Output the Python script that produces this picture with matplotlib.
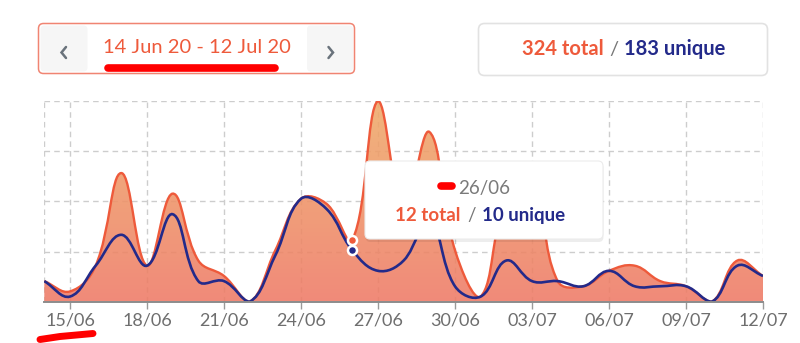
import numpy as np
import matplotlib
matplotlib.use('Agg')
import matplotlib.pyplot as plt
from matplotlib.path import Path
from matplotlib.patches import PathPatch, FancyBboxPatch
from matplotlib.colors import LinearSegmentedColormap

plt.rcParams['font.family'] = ['Lato', 'DejaVu Sans']

# daily visits, 14 Jun 20 -> 12 Jul 20
total = [4, 2, 7, 25, 7, 21, 8, 5, 0, 10, 20, 19, 12, 39, 18, 33, 10, 1,
         20, 23, 4, 3, 6, 7, 4, 3, 0, 8, 5]
unique = [4, 1, 7, 13, 7, 17, 4, 4, 0, 9, 20, 18, 10, 6, 8, 16, 3, 1,
          8, 4, 4, 3, 6, 3, 3, 3, 0, 7, 5]
unique_period = 183
tick_days = [1, 4, 7, 10, 13, 16, 19, 22, 25, 28]
tick_labels = ['15/06', '18/06', '21/06', '24/06', '27/06',
               '30/06', '03/07', '06/07', '09/07', '12/07']
range_label = '14 Jun 20 - 12 Jul 20'
hover_day = 12
hover_label = '26/06'

RED = '#ee5a3b'
NAVY = '#232a8a'

ndays = len(total)
xmax = ndays - 1
ymax = max(total)
# pixel size of one day / one visit, used for the spline control points
SX, SY = 25.67, 5.15


def spline(values, tension=0.4):
    pts = np.column_stack([np.arange(len(values)) * SX,
                           np.asarray(values, float) * SY])
    n = len(pts)
    cin = np.zeros_like(pts)
    cout = np.zeros_like(pts)
    for i in range(n):
        cur = pts[i]
        prev = pts[max(i - 1, 0)]
        nxt = pts[min(i + 1, n - 1)]
        d01 = np.hypot(*(cur - prev))
        d12 = np.hypot(*(nxt - cur))
        s = d01 + d12
        s01 = d01 / s if s else 0
        s12 = d12 / s if s else 0
        cin[i] = cur - tension * s01 * (nxt - prev)
        cout[i] = cur + tension * s12 * (nxt - prev)
    lim = np.array([xmax * SX, ymax * SY])
    cin = np.clip(cin, 0, lim)
    cout = np.clip(cout, 0, lim)
    verts = [pts[0]]
    codes = [Path.MOVETO]
    for i in range(n - 1):
        verts += [cout[i], cin[i + 1], pts[i + 1]]
        codes += [Path.CURVE4] * 3
    return list(np.array(verts) / [SX, SY]), codes


fig = plt.figure(figsize=(8, 3.43), dpi=100)
ax = fig.add_axes([44.3 / 800, 41.3 / 343, 718.7 / 800, 200.7 / 343])

tv, tc = spline(total)
uv, uc = spline(unique)

area = PathPatch(Path(tv + [(xmax, 0), (0, 0), (0, 0)],
                      tc + [Path.LINETO, Path.LINETO, Path.CLOSEPOLY]),
                 fc='none', ec='none')
ax.add_patch(area)
cmap = LinearSegmentedColormap.from_list('fill', ['#ee7a66', '#f0ab6a'])
grad = ax.imshow(np.linspace(0, 1, 256).reshape(-1, 1), cmap=cmap,
                 origin='lower', extent=[0, xmax, 0, ymax], aspect='auto',
                 alpha=0.88, zorder=2)
grad.set_clip_path(area)

ax.add_patch(PathPatch(Path(tv, tc), fill=False, ec=RED, lw=1.7, zorder=3))
ax.add_patch(PathPatch(Path(uv, uc), fill=False, ec=NAVY, lw=1.9, zorder=4))

ax.scatter([hover_day], [total[hover_day]], s=42, c=RED,
           edgecolors='white', linewidths=1.8, zorder=5)
ax.scatter([hover_day], [unique[hover_day]], s=42, c=NAVY,
           edgecolors='white', linewidths=1.8, zorder=5)

ax.set_xlim(0, xmax)
ax.set_ylim(0, ymax)
ax.set_xticks(tick_days)
ax.set_xticklabels(tick_labels)
ax.set_yticks([ymax * k / 4 for k in range(1, 5)])
ax.set_yticklabels([])
ax.tick_params(axis='y', length=0)
ax.tick_params(axis='x', length=5, width=1, color='#9a9a9a', pad=3,
               labelsize=13, labelcolor='#6e6e6e')
ax.grid(True, ls=(0, (4, 3)), color='#cdcdcd', lw=1)
ax.axvline(0, ls=(0, (4, 3)), color='#cdcdcd', lw=1, zorder=1)
ax.set_axisbelow(True)
for side in ['left', 'right', 'top']:
    ax.spines[side].set_visible(False)
ax.spines['bottom'].set_color('#8c8c8c')
ax.spines['bottom'].set_linewidth(1.4)
ax.spines['bottom'].set_zorder(6)

# header widgets and tooltip, laid out in pixels
ov = fig.add_axes([0, 0, 1, 1], zorder=10)
ov.set_xlim(0, 800)
ov.set_ylim(343, 0)
ov.axis('off')
ov.patch.set_alpha(0)

ov.add_patch(FancyBboxPatch((38.5, 23.5), 316, 50,
                            boxstyle='round,pad=0,rounding_size=5',
                            fc='white', ec='#f08472', lw=1.1))
ov.add_patch(FancyBboxPatch((40.5, 25.5), 47, 46,
                            boxstyle='round,pad=0,rounding_size=4',
                            fc='#f6f6f6', ec='none'))
ov.add_patch(FancyBboxPatch((307, 25.5), 46, 46,
                            boxstyle='round,pad=0,rounding_size=4',
                            fc='#f6f6f6', ec='none'))
# prev / next chevrons
ov.plot([66, 61.5, 66], [47, 52.5, 58], color='#6a737c', lw=1.8,
        solid_capstyle='round', solid_joinstyle='miter')
ov.plot([328.5, 333, 328.5], [47, 52.5, 58], color='#6a737c', lw=1.8,
        solid_capstyle='round', solid_joinstyle='miter')
ov.text(196.5, 47.5, range_label, ha='center', va='center', fontsize=14.5,
        color=RED)
ov.plot([108, 275], [68.3, 68.3], color='#ff0000', lw=5.5,
        solid_capstyle='round')

ov.add_patch(FancyBboxPatch((478.5, 23.5), 289, 52,
                            boxstyle='round,pad=0,rounding_size=6',
                            fc='white', ec='#e2e2e2', lw=1.2))
ov.text(522, 55, f'{sum(total)} total', ha='left', va='baseline',
        fontsize=14.5, fontweight='bold', color=RED)
ov.text(613.5, 55, '/', ha='center', va='baseline', fontsize=14.5,
        color='#777777')
ov.text(624, 55, f'{unique_period} unique', ha='left', va='baseline',
        fontsize=14.5, fontweight='bold', color=NAVY)

# hover tooltip
ov.add_patch(FancyBboxPatch((365.5, 163), 238, 79,
                            boxstyle='round,pad=0,rounding_size=5',
                            fc=(0, 0, 0, 0.07), ec='none'))
ov.add_patch(FancyBboxPatch((365, 161), 238, 78,
                            boxstyle='round,pad=0,rounding_size=5',
                            fc='white', ec='#ececec', lw=0.8))
ov.text(458, 194, hover_label, ha='left', va='baseline', fontsize=13.5,
        color='#7a7a7a')
ov.plot([441, 451.5], [186, 186], color='#ff0000', lw=5.5,
        solid_capstyle='round')
ov.text(395, 221, f'{total[hover_day]} total', ha='left', va='baseline',
        fontsize=13.5, fontweight='bold', color=RED)
ov.text(471.5, 221, '/', ha='center', va='baseline', fontsize=13.5,
        color='#777777')
ov.text(481.5, 221, f'{unique[hover_day]} unique', ha='left',
        va='baseline', fontsize=13.5, fontweight='bold', color=NAVY)

ov.plot([40, 60, 93], [339.5, 336.5, 333.5], color='#ff0000', lw=5,
        solid_capstyle='round', solid_joinstyle='round')

fig.savefig('out.png', dpi=100)
